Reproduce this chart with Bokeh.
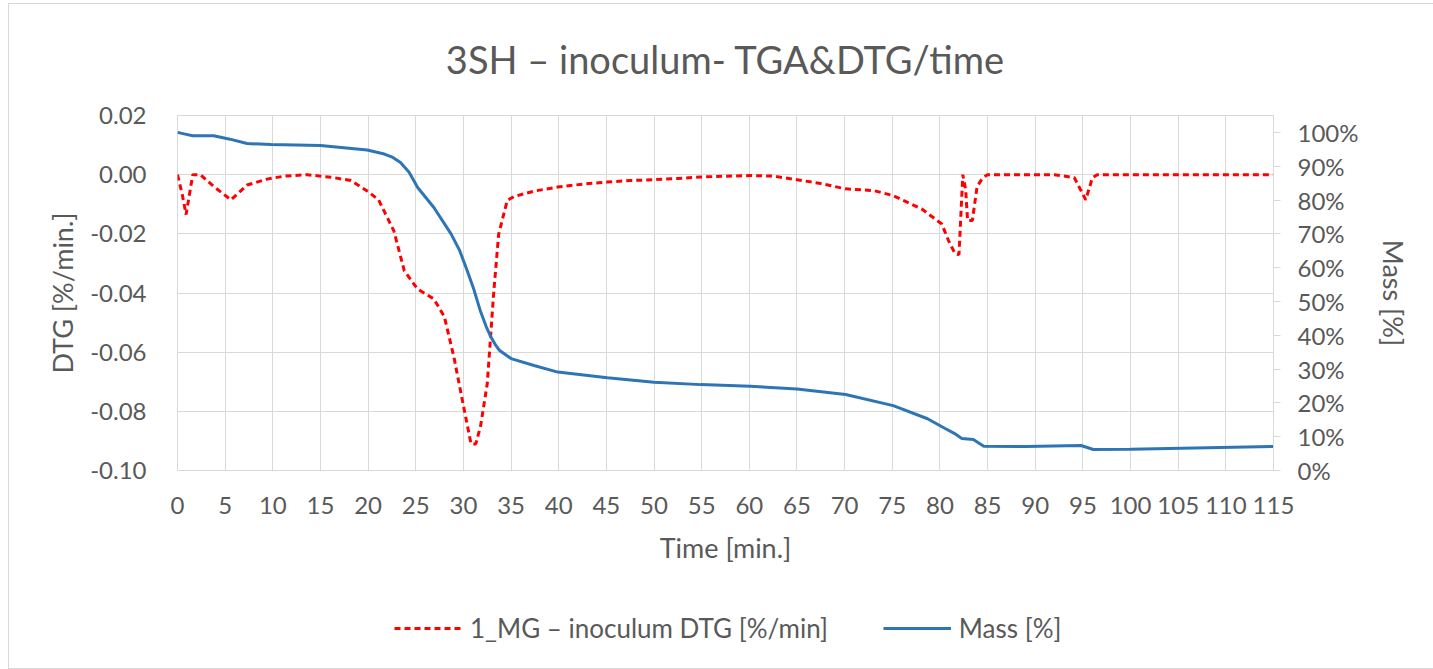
from bokeh.plotting import figure
from bokeh.layouts import column
from bokeh.models import (Range1d, LinearAxis, FixedTicker, NumeralTickFormatter,
                          Legend, LegendItem, ColumnDataSource, InlineStyleSheet)
from bokeh.embed import file_html
from bokeh.resources import INLINE

# ---- data ----
dtg_time = [0, 0.5, 0.9, 1.6, 2.4, 3.8, 5.6, 7.3, 9.4, 11.2, 13.6, 16.4, 18.2, 19.9,
            21.1, 22.7, 23.8, 25.2, 26.9, 28.0, 29.0, 30.1, 30.8, 31.3, 31.8, 32.5,
            33.2, 33.7, 34.6, 35.3, 37.5, 39.9, 42.5, 45.1, 47.5, 50.0, 52.5, 54.9,
            57.5, 60.1, 62.5, 65.0, 67.5, 70.1, 73.1, 75.1, 78.1, 80.2, 80.9, 81.6,
            82.0, 82.4, 82.7, 82.9, 83.4, 83.9, 84.5, 85.0, 87.0, 90.0, 92.0, 94.1,
            95.3, 96.0, 96.5, 100.0, 105.0, 110.0, 115.0]
dtg_values = [0.0, -0.0067, -0.0135, 0.0, 0.0, -0.004, -0.0085, -0.0035, -0.0015, -0.0005,
              0.0, -0.001, -0.002, -0.0055, -0.0085, -0.019, -0.0325, -0.0387, -0.042,
              -0.048, -0.0616, -0.0797, -0.091, -0.091, -0.085, -0.0707, -0.039, -0.0201,
              -0.0087, -0.0074, -0.0055, -0.0042, -0.0032, -0.0025, -0.002, -0.0017,
              -0.0013, -0.0008, -0.0005, -0.0003, -0.0005, -0.0017, -0.003, -0.0048,
              -0.0054, -0.0071, -0.0116, -0.0167, -0.0223, -0.0268, -0.027, 0.0, -0.005,
              -0.0155, -0.0155, -0.004, -0.001, 0.0, 0.0, 0.0, 0.0, -0.001, -0.0085,
              -0.001, 0.0, 0.0, 0.0, 0.0, 0.0]

mass_time = [0, 0.8, 1.6, 3.8, 5.5, 7.3, 9.8, 15.0, 19.9, 21.7, 22.6, 23.4, 24.3, 25.2,
             26.9, 28.7, 29.6, 30.4, 31.1, 31.8, 32.4, 32.9, 33.4, 33.8, 35.0, 37.5, 39.9,
             45.1, 50.0, 54.9, 60.1, 65.0, 70.1, 75.1, 78.7, 80.5, 81.5, 82.3, 83.5, 84.6,
             89.0, 94.8, 96.1, 100.0, 115.0]
mass_values = [1.0, 0.995, 0.99, 0.99, 0.98, 0.967, 0.964, 0.961, 0.948, 0.936, 0.926,
               0.911, 0.882, 0.837, 0.778, 0.70, 0.651, 0.591, 0.535, 0.47, 0.425, 0.394,
               0.37, 0.355, 0.331, 0.31, 0.291, 0.274, 0.261, 0.254, 0.249, 0.241, 0.225,
               0.192, 0.153, 0.125, 0.11, 0.095, 0.092, 0.072, 0.071, 0.074, 0.062, 0.063,
               0.071]

x_ticks = list(range(0, 120, 5))
dtg_ticks = [-0.10, -0.08, -0.06, -0.04, -0.02, 0.0, 0.02]
mass_ticks = [0.0, 0.1, 0.2, 0.3, 0.4, 0.5, 0.6, 0.7, 0.8, 0.9, 1.0]

title_text = "3SH – inoculum- TGA&DTG/time"
dtg_label = "1_MG – inoculum DTG [%/min]"
mass_label = "Mass [%]"

FONT = "Lato"
TXT = "#595959"
GRID = "#d9d9d9"
RED = "#ff0000"
BLUE = "#2e75b6"

frame_css = InlineStyleSheet(css="""
:host { position: relative; }
:host::after {
  content: ""; position: absolute; left: 8px; top: 3px; right: 0px; height: 664px;
  border-style: solid; border-color: #d9d9d9; border-width: 1px 0 1px 1px;
  pointer-events: none; z-index: 10;
}
""")

p = figure(frame_width=1096, frame_height=355, output_backend="svg", toolbar_location=None,
           x_range=Range1d(0, 115), y_range=Range1d(-0.10, 0.02),
           min_border_left=177, min_border_right=160, min_border_top=112,
           min_border_bottom=100)
p.extra_y_ranges = {"mass": Range1d(0, 1.05)}
p.background_fill_color = "white"
p.border_fill_color = "white"
p.outline_line_color = GRID

p.title.text = title_text
p.title.align = "center"
p.title.text_font = FONT
p.title.text_font_size = "38px"
p.title.text_font_style = "normal"
p.title.text_color = TXT
p.title.standoff = 67

dsrc = ColumnDataSource(dict(t=dtg_time, v=dtg_values))
msrc = ColumnDataSource(dict(t=mass_time, v=mass_values))
r1 = p.line("t", "v", source=dsrc, line_color=RED, line_width=3, line_dash="6 4")
r2 = p.line("t", "v", source=msrc, line_color=BLUE, line_width=3, y_range_name="mass")

# x axis
xa = p.xaxis[0]
xa.ticker = FixedTicker(ticks=x_ticks)
xa.axis_label = "Time [min.]"
# left axis
ya = p.yaxis[0]
ya.ticker = FixedTicker(ticks=dtg_ticks)
ya.formatter = NumeralTickFormatter(format="0.00")
ya.axis_label = "DTG [%/min.]"
# right axis
ra = LinearAxis(y_range_name="mass", ticker=FixedTicker(ticks=mass_ticks),
                formatter=NumeralTickFormatter(format="0%"), axis_label="Mass [%]")
p.add_layout(ra, "right")

for ax in (xa, ya, ra):
    ax.major_label_text_font = FONT
    ax.major_label_text_font_size = "24px"
    ax.major_label_text_color = TXT
    ax.axis_label_text_font = FONT
    ax.axis_label_text_font_size = "27px"
    ax.axis_label_text_font_style = "normal"
    ax.axis_label_text_color = TXT
    ax.minor_tick_line_color = None

xa.axis_line_color = None
xa.major_tick_line_color = None
xa.major_label_standoff = 20
xa.axis_label_standoff = 14
ya.axis_line_color = None
ya.major_tick_line_color = None
ya.major_label_standoff = 25
ya.axis_label_standoff = 8
ra.axis_line_color = GRID
ra.major_tick_line_color = GRID
ra.major_tick_in = 0
ra.major_tick_out = 7
ra.major_label_standoff = 17
ra.axis_label_standoff = 16

p.xgrid.grid_line_color = GRID
p.ygrid.grid_line_color = GRID
p.xgrid.grid_line_width = 1
p.ygrid.grid_line_width = 1

# ---- legend strip (separate figure under the chart) ----
lg = figure(width=1433, height=99, output_backend="svg", toolbar_location=None,
            x_range=Range1d(0, 1), y_range=Range1d(0, 1),
            min_border_left=0, min_border_right=0, min_border_top=0, min_border_bottom=0)
lg.axis.visible = False
lg.grid.visible = False
lg.outline_line_color = None
lg.background_fill_color = "white"
lg.border_fill_color = "white"
# legend-only renderers: their points lie outside the visible range
l1 = lg.line([0, 1], [-5, -5], line_color=RED, line_width=3, line_dash="6 4")
l2 = lg.line([0, 1], [-5, -5], line_color=BLUE, line_width=3)

legend = Legend(items=[LegendItem(label=dtg_label, renderers=[l1]),
                       LegendItem(label=mass_label, renderers=[l2])],
                orientation="horizontal", location=(217, 25))
legend.label_text_font = FONT
legend.label_text_font_size = "26px"
legend.label_text_color = TXT
legend.glyph_width = 68
legend.label_standoff = 8
legend.spacing = 55
legend.padding = 8
legend.margin = 0
legend.border_line_color = None
legend.background_fill_alpha = 0
lg.add_layout(legend, "center")

layout = column(p, lg, spacing=0, stylesheets=[frame_css])

open("out.html", "w").write(file_html(layout, INLINE))
